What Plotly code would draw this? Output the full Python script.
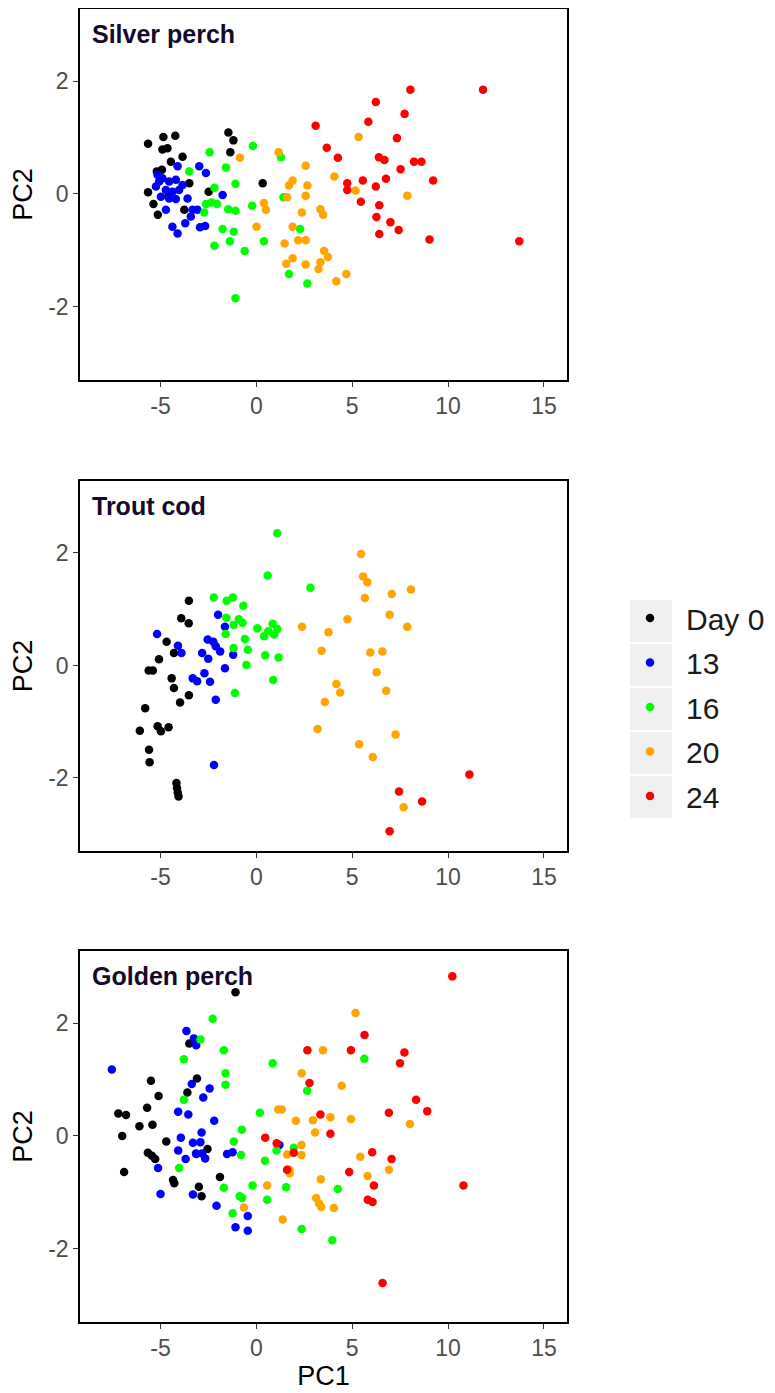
import plotly.graph_objects as go

# ---------------- data ----------------
groups = ["Day 0", "13", "16", "20", "24"]
group_colors = ["#000000", "#0000FF", "#00FF00", "#FFA500", "#FF0000"]
panel_titles = ["Silver perch", "Trout cod", "Golden perch"]
x_ticks = [-5, 0, 5, 10, 15]
x_tick_text = ["-5", "0", "5", "10", "15"]
y_ticks = [-2, 0, 2]
y_tick_text = ["-2", "0", "2"]

# Silver perch
silver_d0_pc1 = [-5.65, -4.85, -4.23, -4.9, -4.64, -3.85, -4.46, -4.93, -5.19, -5.65, -5.37, -5.14, -3.76, -3.5, -2.49, -1.46, -1.2, -1.36, 0.33, -4.6]
silver_d0_pc2 = [0.89, 1.01, 1.03, 0.79, 0.81, 0.66, 0.57, 0.43, 0.40, 0.03, -0.18, -0.37, -0.28, 0.19, 0.04, 1.09, 0.95, 0.74, 0.19, -0.05]
silver_d13_pc1 = [-4.11, -2.98, -2.63, -5.16, -4.9, -4.55, -4.2, -3.85, -5.24, -4.72, -4.38, -4.03, -4.98, -4.55, -4.2, -3.59, -1.76, -4.72, -3.33, -3.07, -3.42, -4.38, -4.11, -3.71, -2.94, -2.67, -5.07]
silver_d13_pc2 = [0.49, 0.49, 0.37, 0.34, 0.28, 0.22, 0.25, 0.16, 0.13, 0.07, 0.04, 0.07, -0.05, -0.08, -0.09, -0.08, -0.02, -0.28, -0.28, -0.28, -0.40, -0.58, -0.70, -0.52, -0.59, -0.57, 0.22]
silver_d16_pc1 = [-2.44, -1.59, -0.18, 1.28, -3.5, -2.19, -1.09, -2.63, -2.34, -2.05, -2.72, -1.47, -1.09, -0.22, 1.41, -1.76, -1.18, -2.19, -1.38, -0.61, 0.39, 2.28, 1.70, 2.66, -1.09]
silver_d16_pc2 = [0.74, 0.47, 0.85, 0.65, 0.40, 0.11, 0.18, -0.18, -0.15, -0.18, -0.33, -0.27, -0.30, -0.21, -0.06, -0.62, -0.67, -0.92, -0.84, -1.01, -0.84, -0.62, -1.42, -1.59, -1.85]
silver_d20_pc1 = [-0.86, 1.16, 2.57, 5.33, 4.07, 1.70, 1.89, 2.66, 2.57, 5.17, 7.87, 0.39, 0.5, 1.60, 2.37, 3.34, 3.48, 0.01, 1.89, 2.18, 2.57, 1.47, 3.53, 3.73, 1.89, 1.56, 3.34, 3.24, 2.57, 4.69, 4.17]
silver_d20_pc2 = [0.64, 0.74, 0.50, 1.01, 0.31, 0.15, 0.24, 0.15, -0.03, 0.06, -0.03, -0.16, -0.28, -0.06, -0.33, -0.27, -0.37, -0.58, -0.58, -0.82, -0.82, -0.88, -1.01, -1.12, -1.14, -1.24, -1.21, -1.33, -1.25, -1.42, -1.55]
silver_d24_pc1 = [8.03, 11.82, 6.23, 7.73, 5.84, 3.09, 7.33, 3.67, 4.25, 6.39, 6.68, 8.22, 8.61, 7.52, 6.76, 9.22, 5.55, 4.74, 4.74, 6.23, 5.45, 6.41, 6.26, 6.99, 7.42, 6.41, 9.03, 13.71]
silver_d24_pc2 = [1.85, 1.85, 1.63, 1.42, 1.28, 1.21, 0.99, 0.82, 0.64, 0.65, 0.60, 0.57, 0.57, 0.44, 0.27, 0.24, 0.24, 0.19, 0.07, 0.13, -0.14, -0.20, -0.41, -0.50, -0.64, -0.71, -0.81, -0.84]

# Trout cod
trout_d0_pc1 = [-3.52, -3.92, -3.53, -4.68, -4.3, -5.08, -5.62, -5.4, -4.42, -4.3, -3.52, -3.98, -5.8, -6.08, -5.15, -4.98, -4.58, -5.6, -5.57, -4.17, -4.14, -4.1, -4.06]
trout_d0_pc2 = [1.15, 0.84, 0.75, 0.42, 0.22, 0.11, -0.09, -0.09, -0.23, -0.40, -0.53, -0.66, -0.76, -1.16, -1.08, -1.17, -1.10, -1.50, -1.72, -2.09, -2.18, -2.26, -2.33]
trout_d13_pc1 = [-5.18, -2.0, -1.64, -4.09, -3.91, -2.54, -2.25, -2.12, -1.89, -2.83, -2.51, -1.21, -1.64, -3.32, -3.09, -2.71, -2.42, -2.12, -2.21]
trout_d13_pc2 = [0.56, 0.90, 0.69, 0.35, 0.22, 0.46, 0.42, 0.34, 0.25, 0.22, 0.12, 0.19, -0.05, -0.23, -0.28, -0.14, -0.29, -0.61, -1.77]
trout_d16_pc1 = [1.09, 0.59, 2.82, -2.22, -1.55, -1.22, -0.68, -1.57, -0.92, -0.72, -1.19, 0.05, 0.85, 0.62, 1.09, 0.4, 0.93, -1.6, -0.6, -0.45, -1.19, 0.46, 1.16, -0.52, 0.88, -1.12]
trout_d16_pc2 = [2.35, 1.60, 1.38, 1.21, 1.15, 1.21, 1.06, 0.85, 0.82, 0.76, 0.72, 0.66, 0.74, 0.61, 0.65, 0.52, 0.55, 0.56, 0.47, 0.28, 0.31, 0.18, 0.14, 0.01, -0.26, -0.49]
trout_d20_pc1 = [5.46, 5.56, 5.79, 5.66, 7.06, 8.06, 6.95, 4.75, 2.38, 7.87, 3.76, 3.40, 5.94, 6.57, 6.27, 4.17, 4.37, 6.77, 3.57, 3.19, 7.26, 5.36, 6.07, 7.68]
trout_d20_pc2 = [1.98, 1.58, 1.48, 1.20, 1.27, 1.35, 0.90, 0.82, 0.69, 0.69, 0.59, 0.26, 0.23, 0.25, -0.12, -0.33, -0.48, -0.45, -0.65, -1.13, -1.23, -1.40, -1.63, -2.52]
trout_d24_pc1 = [11.11, 7.44, 8.64, 6.95]
trout_d24_pc2 = [-1.94, -2.24, -2.42, -2.95]

# Golden perch
golden_d0_pc1 = [-1.09, -3.5, -3.1, -3.6, -5.5, -5.1, -7.2, -6.8, -5.7, -6.1, -5.42, -7.0, -4.7, -5.66, -5.45, -5.28, -6.9, -3.13, -2.55, -1.9, -4.35, -4.28, -3.0, -2.86]
golden_d0_pc2 = [2.55, 1.64, 1.02, 0.77, 0.98, 0.71, 0.40, 0.37, 0.50, 0.17, 0.20, 0.0, -0.10, -0.30, -0.35, -0.41, -0.64, -0.32, -0.23, -0.73, -0.78, -0.84, -0.90, -1.07]
golden_d13_pc1 = [-7.54, -3.65, -3.26, -3.14, -3.37, -2.44, -2.77, -4.08, -3.55, -2.20, -3.94, -2.86, -3.31, -2.92, -4.08, -3.69, -3.15, -2.67, -2.83, -1.53, -1.24, -5.13, -5.0, -3.31, -2.08, -0.45, -1.09, -0.45, 1.2]
golden_d13_pc2 = [1.18, 1.86, 1.73, 1.61, 0.92, 0.84, 0.68, 0.43, 0.38, 0.27, -0.03, 0.06, -0.12, -0.11, -0.26, -0.41, -0.31, -0.40, -0.31, -0.32, -0.29, -0.57, -1.03, -1.04, -1.24, -1.42, -1.62, -1.68, -0.16]
golden_d16_pc1 = [-2.28, -2.92, -1.70, -3.78, -1.61, -1.61, 0.85, -3.78, 0.18, -0.76, -1.18, -0.80, -4.03, 0.45, 1.05, 1.95, 2.65, 5.63, -1.70, -0.2, 1.55, -0.87, -0.74, 0.56, -1.24, 4.25, 2.36, 3.96]
golden_d16_pc2 = [2.08, 1.71, 1.52, 1.36, 1.11, 0.91, 1.29, 0.64, 0.41, 0.11, -0.10, -0.34, -0.57, -0.44, -0.26, -0.21, 0.80, 1.37, -0.92, -0.88, -0.91, -1.07, -1.10, -1.13, -1.37, -0.94, -1.65, -1.85]
golden_d20_pc1 = [5.17, 3.47, 2.36, 4.45, 1.14, 1.32, 3.86, 4.93, 2.06, 2.95, 3.06, 8.01, 2.35, 2.35, 1.6, 1.72, 1.74, 5.42, 6.91, 5.8, 3.36, 0.56, 3.12, 3.27, 3.38, 4.04, -0.65, 1.37]
golden_d20_pc2 = [2.18, 1.52, 1.11, 0.89, 0.47, 0.47, 0.33, 0.30, 0.27, 0.28, 0.06, 0.21, -0.16, -0.34, -0.33, -0.60, -0.66, -0.37, -0.60, -0.71, -0.77, -0.88, -1.10, -1.20, -1.26, -1.28, -1.27, -1.48]
golden_d24_pc1 = [10.22, 5.64, 2.66, 4.93, 7.72, 7.49, 2.77, 8.33, 8.91, 6.91, 3.34, 3.86, 0.46, 1.06, 1.95, 6.04, 7.05, 1.6, 4.84, 6.13, 5.81, 6.06, 10.8, 6.58]
golden_d24_pc2 = [2.83, 1.79, 1.52, 1.52, 1.48, 1.29, 0.94, 0.64, 0.44, 0.41, 0.38, 0.04, -0.03, -0.13, -0.30, -0.29, -0.41, -0.60, -0.64, -0.88, -1.13, -1.17, -0.88, -2.61]

silver = [(silver_d0_pc1, silver_d0_pc2), (silver_d13_pc1, silver_d13_pc2), (silver_d16_pc1, silver_d16_pc2),
          (silver_d20_pc1, silver_d20_pc2), (silver_d24_pc1, silver_d24_pc2)]
trout = [(trout_d0_pc1, trout_d0_pc2), (trout_d13_pc1, trout_d13_pc2), (trout_d16_pc1, trout_d16_pc2),
         (trout_d20_pc1, trout_d20_pc2), (trout_d24_pc1, trout_d24_pc2)]
golden = [(golden_d0_pc1, golden_d0_pc2), (golden_d13_pc1, golden_d13_pc2), (golden_d16_pc1, golden_d16_pc2),
          (golden_d20_pc1, golden_d20_pc2), (golden_d24_pc1, golden_d24_pc2)]
panels = [silver, trout, golden]

# ---------------- figure ----------------
FONT = "Arial, 'Liberation Sans', sans-serif"
OFF = 8                      # default body margin of the html page
W, H = 775 - OFF, 1393 - OFF
ML, MR, MT, MB = 80 - OFF, 208, 9 - OFF, 71
plot_h = H - MT - MB
plot_w = W - ML - MR

def px_x(px):                # page px -> paper x
    return (px - OFF - ML) / plot_w

def px_y(py):                # page px -> paper y
    return (H - MB - (py - OFF)) / plot_h

def ydom(top_px, bot_px):
    return [px_y(bot_px), px_y(top_px)]

domains = [ydom(9, 380), ydom(481, 851), ydom(951, 1322)]

fig = go.Figure()
for p, series in enumerate(panels):
    xa = "x" if p == 0 else f"x{p+1}"
    ya = "y" if p == 0 else f"y{p+1}"
    for g, (xs, ys) in enumerate(series):
        fig.add_trace(go.Scatter(
            x=xs, y=ys, mode="markers", xaxis=xa, yaxis=ya,
            name=groups[g], legendgroup=groups[g], showlegend=(p == 0),
            marker=dict(color=group_colors[g], size=8.5, line=dict(width=0)),
        ))

axis_common = dict(showline=True, mirror=True, linecolor="#000000", linewidth=1.5,
                   ticks="outside", ticklen=5, tickwidth=1.2, tickcolor="#333333",
                   showgrid=False, zeroline=False, automargin=False,
                   tickfont=dict(family=FONT, size=23, color="#4D4D4D"))

layout = dict(
    width=W, height=H,
    margin=dict(l=ML, r=MR, t=MT, b=MB, autoexpand=False),
    paper_bgcolor="white", plot_bgcolor="white",
    font=dict(family=FONT),
    showlegend=True,
    legend=dict(x=px_x(614), y=px_y(592), xanchor="left", yanchor="top",
                xref="paper", yref="paper",
                font=dict(family=FONT, size=30, color="#1A1A1A"),
                bgcolor="rgba(0,0,0,0)", itemwidth=62, tracegroupgap=2.5,
                traceorder="grouped"),
)

for p in range(3):
    xkey = "xaxis" if p == 0 else f"xaxis{p+1}"
    ykey = "yaxis" if p == 0 else f"yaxis{p+1}"
    yname = "y" if p == 0 else f"y{p+1}"
    xname = "x" if p == 0 else f"x{p+1}"
    xa = dict(axis_common, domain=[0, 1], anchor=yname, range=[-9.2, 16.2],
              tickvals=x_ticks, ticktext=x_tick_text)
    if p == 2:
        xa["title"] = dict(text="PC1", font=dict(family=FONT, size=27, color="#000000"), standoff=2)
    ya = dict(axis_common, domain=domains[p], anchor=xname, range=[-3.3, 3.28],
              tickvals=y_ticks, ticktext=y_tick_text,
              title=dict(text="PC2", font=dict(family=FONT, size=27, color="#000000"), standoff=8))
    layout[xkey] = xa
    layout[ykey] = ya

annotations = []
for p, title in enumerate(panel_titles):
    xname = "x" if p == 0 else f"x{p+1}"
    yname = "y" if p == 0 else f"y{p+1}"
    annotations.append(dict(text="<b>" + title + "</b>", xref=f"{xname} domain", yref=f"{yname} domain",
                            x=0.02, y=0.932, xanchor="left", yanchor="middle", showarrow=False,
                            font=dict(family=FONT, size=25, color="#140A2A")))
layout["annotations"] = annotations

# grey legend key backgrounds (ggplot style)
shapes = []
row_tops = [600, 644, 688, 732, 776]
for t in row_tops:
    shapes.append(dict(type="rect", xref="paper", yref="paper", layer="below",
                       x0=px_x(630), x1=px_x(672),
                       y0=px_y(t + 42), y1=px_y(t),
                       fillcolor="#F0F0F0", line=dict(width=0)))
layout["shapes"] = shapes

fig.update_layout(**layout)
fig.write_html("out.html")
